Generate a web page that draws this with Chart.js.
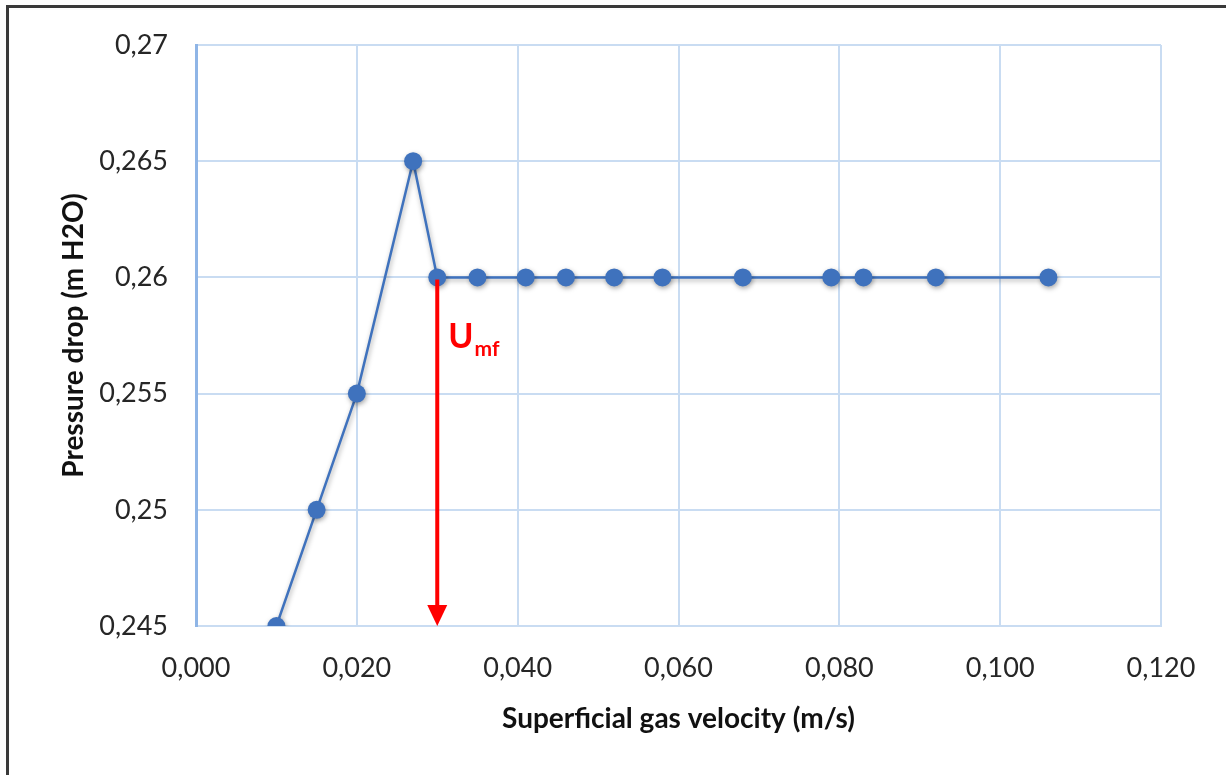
<!DOCTYPE html>
<html>
<head>
<meta charset="utf-8">
<script src="https://cdn.jsdelivr.net/npm/chart.js@4/dist/chart.umd.min.js"></script>
<style>
  html, body { margin: 0; padding: 0; background: #fff; }
  #wrap { position: relative; width: 1226px; height: 775px; overflow: hidden; }
  #frame { position: absolute; left: 6px; top: 5px; width: 1300px; height: 900px;
           border-left: 3px solid #3a3a3a; border-top: 3px solid #3a3a3a; pointer-events: none; }
  canvas { position: absolute; left: 0; top: 0; }
</style>
</head>
<body>
<div id="wrap">
  <canvas id="chart" width="1226" height="775"></canvas>
  <div id="frame"></div>
</div>
<script>
// superficial gas velocity (m/s) and pressure drop (m H2O)
const velocity = [0.010, 0.015, 0.020, 0.027, 0.030, 0.035, 0.041, 0.046, 0.052, 0.058, 0.068, 0.079, 0.083, 0.092, 0.106];
const pressureDrop = [0.245, 0.250, 0.255, 0.265, 0.260, 0.260, 0.260, 0.260, 0.260, 0.260, 0.260, 0.260, 0.260, 0.260, 0.260];
const xTickLabels = ["0,000", "0,020", "0,040", "0,060", "0,080", "0,100", "0,120"];
const yTickLabels = ["0,245", "0,25", "0,255", "0,26", "0,265", "0,27"];
const umfVelocity = 0.030;   // minimum fluidization velocity marker
const umfPressure = 0.260;

const blue = "#3f72bd";
const gridColor = "#c9dcf2";

// red arrow + U_mf label
const umfPlugin = {
    id: "umf",
    afterDatasetsDraw(chart) {
        const { ctx, scales } = chart;
        const x = scales.x.getPixelForValue(umfVelocity);
        const yTop = scales.y.getPixelForValue(umfPressure);
        const yBot = scales.y.getPixelForValue(scales.y.min);
        ctx.save();
        ctx.strokeStyle = "#ff0000";
        ctx.fillStyle = "#ff0000";
        ctx.lineWidth = 4;
        ctx.beginPath();
        ctx.moveTo(x, yTop + 2);
        ctx.lineTo(x, yBot - 18);
        ctx.stroke();
        ctx.beginPath();
        ctx.moveTo(x - 10, yBot - 21);
        ctx.lineTo(x + 10, yBot - 21);
        ctx.lineTo(x, yBot);
        ctx.closePath();
        ctx.fill();
        ctx.textBaseline = "alphabetic";
        ctx.font = "bold 34px Lato";
        ctx.fillText("U", x + 11, yTop + 71);
        const w = ctx.measureText("U").width;
        ctx.font = "bold 21px Lato";
        ctx.fillText("mf", x + 12 + w, yTop + 79);
        ctx.restore();
    }
};

// soft shadow under the markers, Excel style
const shadowPlugin = {
    id: "markerShadow",
    beforeDatasetsDraw(chart) {
        const ctx = chart.ctx;
        ctx.save();
        ctx.shadowColor = "rgba(0,0,0,0.35)";
        ctx.shadowBlur = 5;
        ctx.shadowOffsetX = 1;
        ctx.shadowOffsetY = 2;
    },
    afterDatasetsDraw(chart) {
        chart.ctx.restore();
    }
};

new Chart(document.getElementById("chart").getContext("2d"), {
    type: "scatter",
    data: {
        datasets: [{
            data: velocity.map((v, i) => ({ x: v, y: pressureDrop[i] })),
            showLine: true,
            borderColor: blue,
            backgroundColor: blue,
            borderWidth: 2.5,
            pointRadius: 9,
            pointHoverRadius: 9,
            pointBorderWidth: 0
        }]
    },
    plugins: [shadowPlugin, umfPlugin],
    options: {
        responsive: false,
        animation: false,
        devicePixelRatio: 1,
        layout: { padding: { top: 45, right: 65, left: 0, bottom: 0 } },
        plugins: { legend: { display: false }, tooltip: { enabled: false } },
        scales: {
            x: {
                type: "linear",
                min: 0, max: 0.12,
                afterFit: s => { s.height = 149; },
                grid: { color: gridColor, lineWidth: 2, drawTicks: false },
                border: { color: gridColor, width: 2 },
                ticks: {
                    stepSize: 0.02,
                    padding: 26,
                    color: "#262626",
                    font: { family: "Lato", size: 27 },
                    callback: (v, i) => xTickLabels[i] ?? v.toFixed(3).replace(".", ",")
                },
                title: {
                    display: true,
                    text: "Superficial gas velocity (m/s)",
                    color: "#111",
                    font: { family: "Lato", size: 28, weight: "bold" },
                    padding: { top: 0, bottom: 39 }
                }
            },
            y: {
                type: "linear",
                min: 0.245, max: 0.27,
                afterFit: s => { s.width = 196; },
                grid: { color: gridColor, lineWidth: 2, drawTicks: false },
                border: { color: "#8fb5e6", width: 3 },
                ticks: {
                    stepSize: 0.005,
                    padding: 28,
                    color: "#262626",
                    font: { family: "Lato", size: 27 },
                    callback: (v, i) => yTickLabels[i] ?? String(parseFloat(v.toFixed(3))).replace(".", ",")
                },
                title: {
                    display: true,
                    text: "Pressure drop (m H2O)",
                    color: "#111",
                    font: { family: "Lato", size: 28, weight: "bold" },
                    padding: { top: 57, bottom: 0 }
                }
            }
        }
    }
});
</script>
</body>
</html>
